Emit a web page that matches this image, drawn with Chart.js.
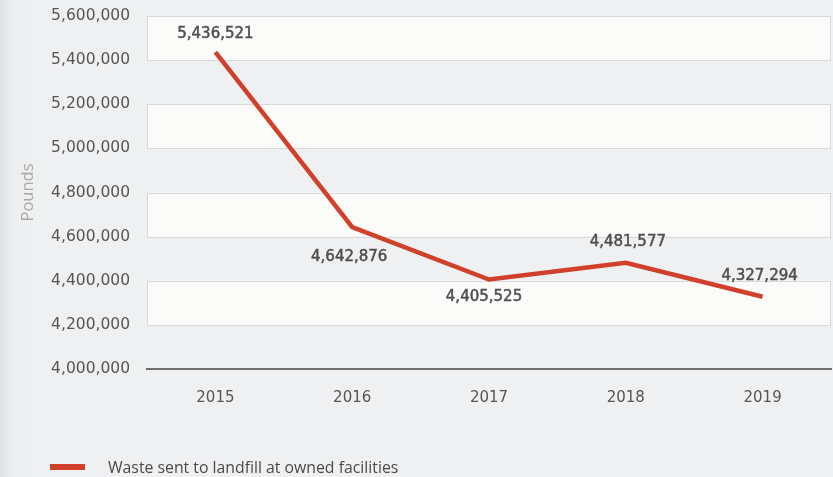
<!DOCTYPE html>
<html>
<head>
<meta charset="utf-8">
<script src="https://cdn.jsdelivr.net/npm/chart.js@4.4.1/dist/chart.umd.min.js"></script>
<style>
  html, body { margin: 0; padding: 0; }
  body {
    width: 833px; height: 477px; overflow: hidden; position: relative;
    background: linear-gradient(90deg, #dfe1e4 0px, #eceef0 12px, #eff0f2 40px, #eff0f2 100%);
  }
  #wrap { position: absolute; left: 0; top: 0; width: 833px; height: 477px; }
  #legend {
    position: absolute; left: 50px; top: 456px; height: 22px;
    display: flex; align-items: center;
    font-family: "Open Sans", sans-serif; font-size: 15.8px; color: #4a4a4a;
  }
  #legend .swatch { width: 35px; height: 6px; background: #d0402b; margin-right: 23px; }
</style>
</head>
<body>
<div id="wrap"><canvas id="c" width="833" height="477"></canvas></div>
<div id="legend"><span class="swatch"></span><span>Waste sent to landfill at owned facilities</span></div>
<script>
// Waste sent to landfill, pounds per year
const years = ['2015', '2016', '2017', '2018', '2019'];
const landfillPounds = [5436521, 4642876, 4405525, 4481577, 4327294];
const yTicks = [4000000, 4200000, 4400000, 4600000, 4800000, 5000000, 5200000, 5400000, 5600000];

const fmt = v => v.toLocaleString('en-US');

// Where each value label sits relative to its point (dx, dy in px)
const labelOffsets = [
  { dx: 0, dy: -18 },
  { dx: -3, dy: 30 },
  { dx: -5, dy: 18 },
  { dx: 2, dy: -21 },
  { dx: -3, dy: -21 }
];

// Alternating white bands behind the plot
const bandsPlugin = {
  id: 'bands',
  beforeDatasetsDraw(chart) {
    const { ctx, chartArea, scales } = chart;
    const y = scales.y;
    ctx.save();
    for (let i = 1; i < yTicks.length - 1; i += 2) {
      const lo = y.getPixelForValue(yTicks[i]);
      const hi = y.getPixelForValue(yTicks[i + 1]);
      const x0 = chartArea.left, w = chartArea.right - chartArea.left;
      ctx.fillStyle = '#fbfbfa';
      ctx.fillRect(x0, hi, w, lo - hi);
      ctx.strokeStyle = '#d9d9d9';
      ctx.lineWidth = 1;
      ctx.strokeRect(x0 + 0.5, Math.round(hi) + 0.5, w - 1, Math.round(lo - hi));
    }
    ctx.restore();
  }
};

// Value labels next to each point
const valueLabelsPlugin = {
  id: 'valueLabels',
  afterDatasetsDraw(chart) {
    const { ctx } = chart;
    const meta = chart.getDatasetMeta(0);
    ctx.save();
    ctx.font = '15px "DejaVu Sans", sans-serif';
    ctx.fillStyle = '#4f4f4f';
    ctx.strokeStyle = '#4f4f4f';
    ctx.lineWidth = 0.5;
    ctx.textAlign = 'center';
    ctx.textBaseline = 'middle';
    meta.data.forEach((pt, i) => {
      const o = labelOffsets[i];
      const t = fmt(landfillPounds[i]);
      ctx.fillText(t, pt.x + o.dx, pt.y + o.dy);
      ctx.strokeText(t, pt.x + o.dx, pt.y + o.dy);
    });
    ctx.restore();
  }
};

new Chart(document.getElementById('c'), {
  type: 'line',
  data: {
    labels: years,
    datasets: [{
      label: 'Waste sent to landfill at owned facilities',
      data: landfillPounds,
      borderColor: '#d0402b',
      borderWidth: 4.5,
      tension: 0,
      pointRadius: 0,
      pointHoverRadius: 0,
      fill: false
    }]
  },
  options: {
    responsive: false,
    animation: false,
    events: [],
    layout: { padding: { top: 16, right: 2, bottom: 0, left: 0 } },
    plugins: { legend: { display: false }, tooltip: { enabled: false } },
    scales: {
      x: {
        offset: true,
        grid: { display: false, drawTicks: false },
        border: { display: true, color: '#6f6f6f', width: 2 },
        ticks: {
          padding: 20,
          color: '#555',
          font: { family: '"DejaVu Sans", sans-serif', size: 15 }
        },
        afterFit(scale) {
          scale.height = 108;
          scale.paddingLeft = 0;
          scale.paddingRight = 0;
        }
      },
      y: {
        min: 4000000,
        max: 5600000,
        grid: { display: false, drawTicks: false },
        border: { display: false },
        afterBuildTicks(scale) { scale.ticks = yTicks.map(v => ({ value: v })); },
        ticks: {
          padding: 17,
          color: '#555',
          font: { family: '"DejaVu Sans", sans-serif', size: 15.5 },
          callback: v => fmt(v)
        },
        title: {
          display: true,
          text: 'Pounds',
          color: '#a9a9a9',
          padding: { top: 18, bottom: 0 },
          font: { family: '"Open Sans", sans-serif', size: 16.5 }
        },
        afterFit(scale) {
          scale.width = 147;
          scale.paddingTop = 0;
          scale.paddingBottom = 0;
        }
      }
    }
  },
  plugins: [bandsPlugin, valueLabelsPlugin]
});
</script>
</body>
</html>
